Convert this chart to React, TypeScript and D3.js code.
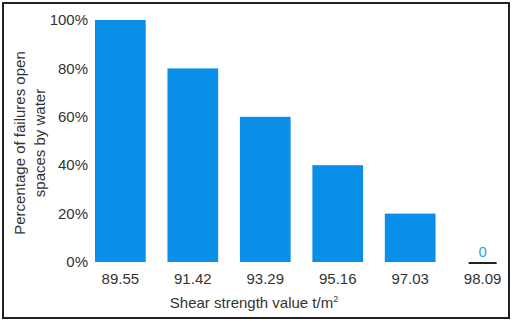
import React from "react";
import * as d3 from "d3";

const categories = ["89.55", "91.42", "93.29", "95.16", "97.03", "98.09"];
const values = [100, 80, 60, 40, 20, 0];
const yTicks = [0, 20, 40, 60, 80, 100];

const W = 515;
const H = 322;
const BAR = "#0a8fe9";
const FONT = "'Liberation Sans', Arial, sans-serif";

export default function App() {
  const x = d3.scaleBand<string>().domain(categories).range([95, 508]).paddingInner(0.3).paddingOuter(0);
  const y = d3.scaleLinear().domain([0, 100]).range([262, 20]);
  const bw = x.bandwidth();
  return (
    <svg width={W} height={H} style={{ position: "absolute", left: 0, top: 0, display: "block" }}>
      <rect x={0} y={0} width={W} height={H} fill="#fff" />
      <rect x={3} y={3} width={506} height={315} fill="none" stroke="#222" strokeWidth={2} />
      {yTicks.map((t) => (
        <text key={t} x={88} y={y(t)} dy="0.35em" textAnchor="end" fontFamily={FONT} fontSize={15} fill="#333">
          {t}%
        </text>
      ))}
      {categories.map((c, i) => {
        const v = values[i];
        const cx = (x(c) ?? 0) + bw / 2;
        if (v === 0) {
          return (
            <g key={c}>
              <line x1={cx - 14} x2={cx + 14} y1={y(0) + 1} y2={y(0) + 1} stroke="#222" strokeWidth={2} />
              <text x={cx} y={y(0) - 5} textAnchor="middle" fontFamily={FONT} fontSize={15} fill="#2aa3ea">
                {v}
              </text>
            </g>
          );
        }
        return <rect key={c} x={x(c)} y={y(v)} width={bw} height={y(0) - y(v)} fill={BAR} />;
      })}
      {categories.map((c) => (
        <text key={c} x={(x(c) ?? 0) + bw / 2} y={284} textAnchor="middle" fontFamily={FONT} fontSize={15} fill="#333">
          {c}
        </text>
      ))}
      <text x={254} y={308} textAnchor="middle" fontFamily={FONT} fontSize={15} fill="#333">
        Shear strength value t/m<tspan fontSize={9} dy={-6}>2</tspan>
      </text>
      <g transform={`translate(25, 143) rotate(-90)`}>
        <text x={0} y={0} textAnchor="middle" fontFamily={FONT} fontSize={15} fill="#333">
          Percentage of failures open
        </text>
        <text x={0} y={20} textAnchor="middle" fontFamily={FONT} fontSize={15} fill="#333">
          spaces by water
        </text>
      </g>
    </svg>
  );
}
